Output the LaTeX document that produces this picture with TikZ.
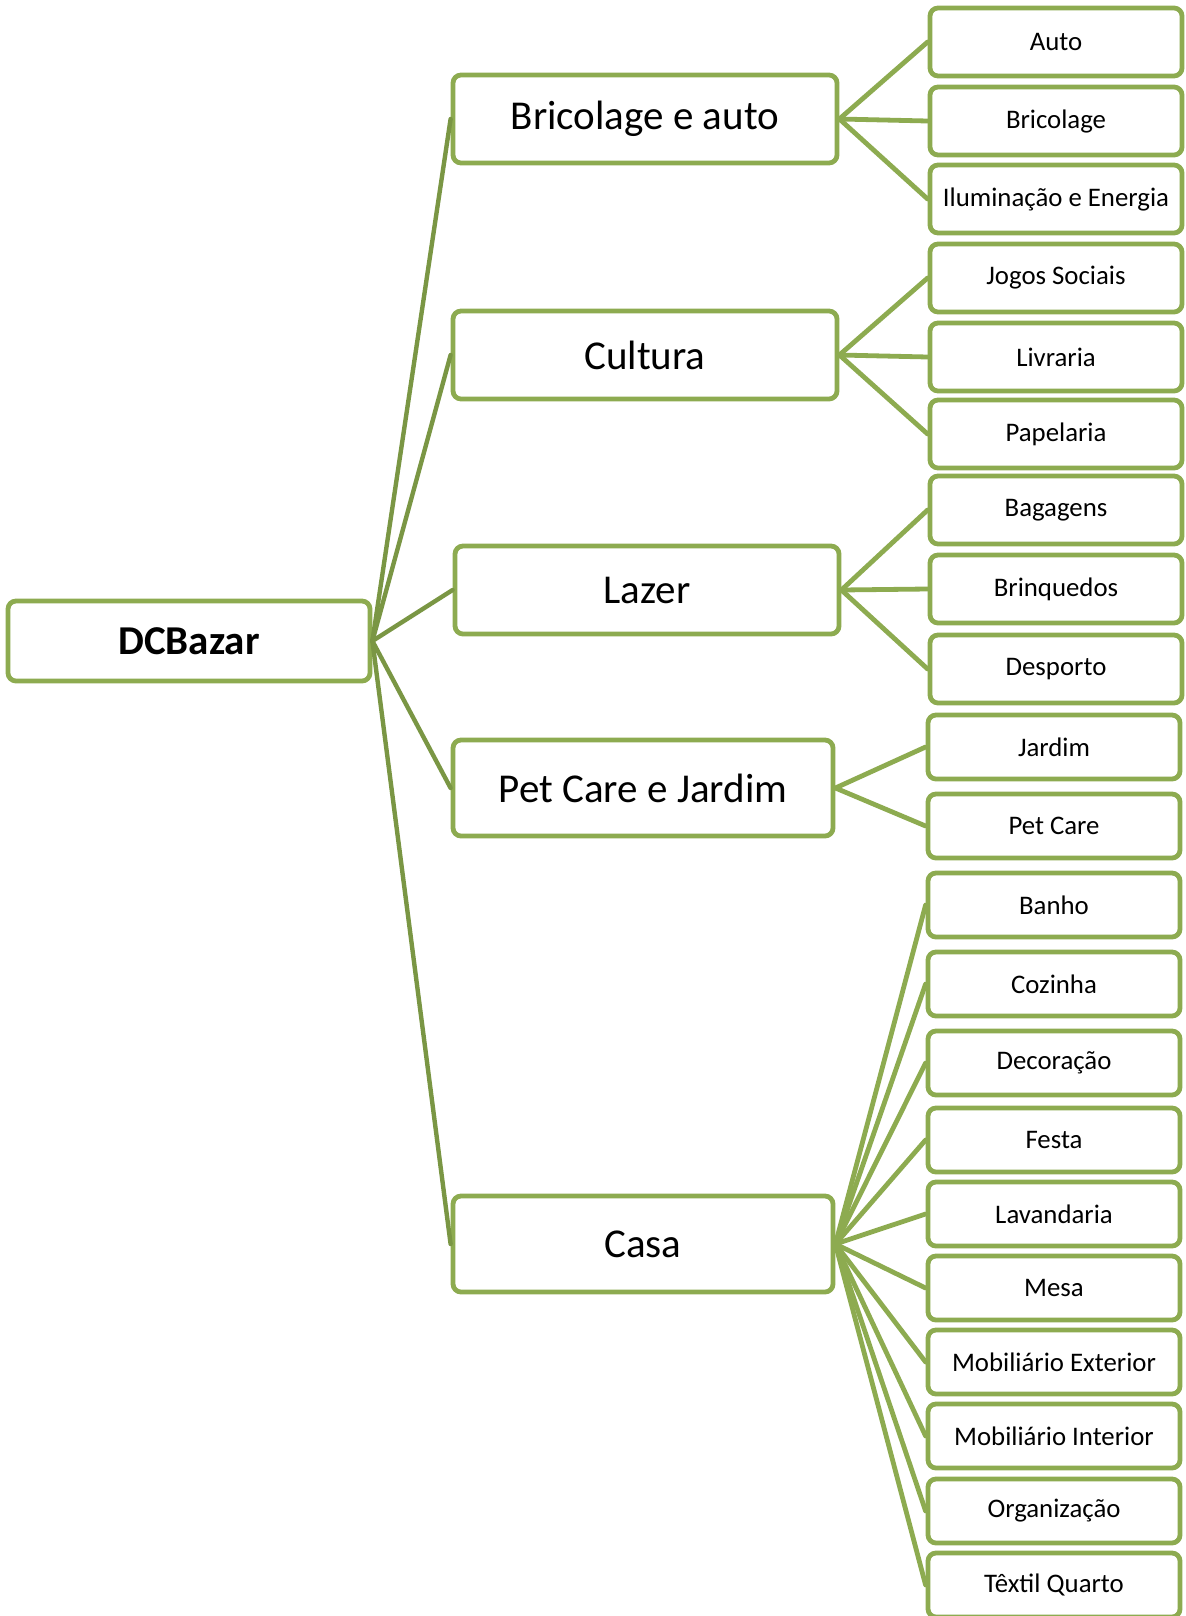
\documentclass[tikz,border=0pt]{standalone}
\usepackage{fontspec}
\setmainfont{Carlito}
\definecolor{olive}{HTML}{8DAB50}
\definecolor{darkolive}{HTML}{7A9644}
\tikzset{
  box/.style={draw=olive, line width=2.4pt, rounded corners=4pt, fill=white, inner sep=0pt, align=center},
  rootbox/.style={box, minimum width=181pt, minimum height=40pt, font=\fontsize{20.5}{24}\selectfont\bfseries},
  catbox/.style={box, minimum width=192pt, minimum height=44pt, font=\fontsize{20.5}{24}\selectfont},
  leafbox/.style={box, minimum width=126pt, minimum height=34pt, font=\fontsize{13.4}{16}\selectfont},
  trunk/.style={darkolive, line width=2.2pt},
  twig/.style={olive, line width=2.4pt}
}
\begin{document}
\begin{tikzpicture}[x=0.5pt, y=-0.5pt, line join=round, line cap=round]
  \useasboundingbox (0,0) rectangle (1185,1616);
  % root and main categories
  \node[rootbox] (dcbazar) at (189,641) {DCBazar};
  \node[catbox] (bricauto) at (645,119) {Bricolage e auto};
  \node[catbox] (cultura) at (645,355) {Cultura};
  \node[catbox] (lazer) at (647,590) {Lazer};
  \node[catbox, minimum width=190pt, minimum height=48pt] (petjardim) at (643,788) {Pet Care e Jardim};
  \node[catbox, minimum width=190pt, minimum height=48pt] (casa) at (643,1244) {Casa};
  \foreach \c in {bricauto,cultura,lazer,petjardim,casa}
    \draw[trunk] (dcbazar.east) -- (\c.west);
  % sub-categories
  \foreach \n/\y/\t/\p in {auto/42/Auto/bricauto, bricolage/121/Bricolage/bricauto,
      iluminacao/199/Iluminação e Energia/bricauto,
      jogos/278/Jogos Sociais/cultura, livraria/357/Livraria/cultura, papelaria/434/Papelaria/cultura,
      bagagens/510/Bagagens/lazer, brinquedos/589/Brinquedos/lazer, desporto/669/Desporto/lazer}
  {
    \node[leafbox] (\n) at (1056,\y) {\t};
    \draw[twig] (\p.east) -- (\n.west);
  }
  \foreach \n/\y/\t/\p in {jardim/747/Jardim/petjardim, petcare/826/Pet Care/petjardim,
      banho/905/Banho/casa, cozinha/984/Cozinha/casa, decoracao/1063/Decoração/casa,
      festa/1140/Festa/casa, lavandaria/1214/Lavandaria/casa, mesa/1288/Mesa/casa,
      mobext/1362/Mobiliário Exterior/casa, mobint/1436/Mobiliário Interior/casa,
      organizacao/1511/Organização/casa, textil/1585/Têxtil Quarto/casa}
  {
    \node[leafbox, minimum height=32pt] (\n) at (1054,\y) {\t};
    \draw[twig] (\p.east) -- (\n.west);
  }
\end{tikzpicture}
\end{document}
